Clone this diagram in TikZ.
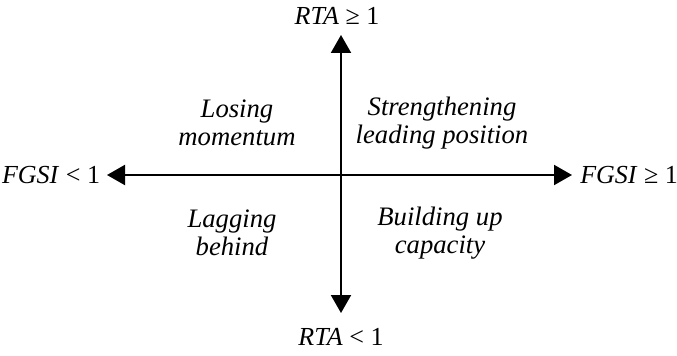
\documentclass[tikz,border=0pt]{standalone}
\usepackage{fontspec}
\setmainfont{Liberation Serif}
\usetikzlibrary{positioning,arrows.meta}
\tikzset{
  axis/.style  = {line width=1.5pt, {Triangle[length=13.5pt,width=15pt]}-{Triangle[length=13.5pt,width=15pt]}},
  lbl/.style   = {inner sep=0pt, font=\fontsize{19.5}{21}\selectfont},
  quad/.style  = {inner sep=0pt, align=center, font=\fontsize{20}{21}\selectfont\itshape},
}
\begin{document}
\begin{tikzpicture}[x=0.75pt,y=-0.75pt]
  \useasboundingbox (0,0) rectangle (677,356);
  % axes
  \coordinate (xl) at (107,175);
  \coordinate (xr) at (572,175);
  \coordinate (yt) at (341,35);
  \coordinate (yb) at (341,313);
  \draw[axis] (xl) -- (xr);
  \draw[axis] (yt) -- (yb);
  % axis labels
  \node[lbl,left=5pt of xl] (fl) {\textit{FGSI} < 1};
  \node[lbl,right=6pt of xr] (fr) {\textit{FGSI} ≥ 1};
  \node[lbl,above=8pt of yt,xshift=-3pt] (rt) {\textit{RTA} ≥ 1};
  \node[lbl,below=11pt of yb] (rb) {\textit{RTA} < 1};
  % quadrants
  \node[quad] (q2) at (237,123) {Losing\\momentum};
  \node[quad] (q1) at (442,123) {Strengthening\\leading position};
  \node[quad] (q3) at (232,233) {Lagging\\behind};
  \node[quad] (q4) at (440,233) {Building up\\capacity};
\end{tikzpicture}
\end{document}
